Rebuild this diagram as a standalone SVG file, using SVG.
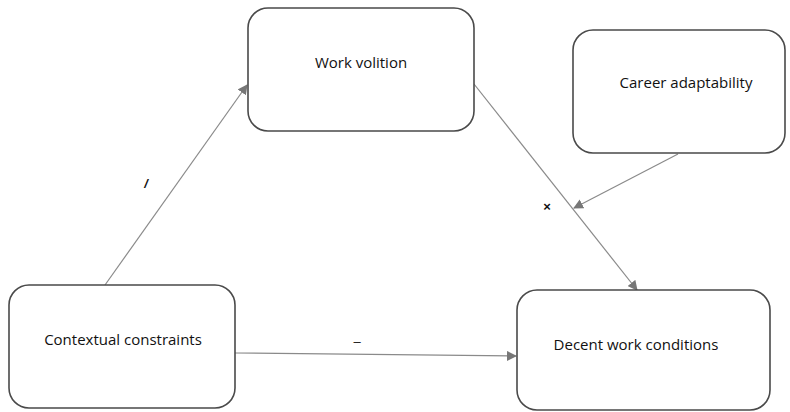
<svg xmlns="http://www.w3.org/2000/svg" width="790" height="412" viewBox="0 0 790 412">
<style>
.box{fill:#fff;stroke:#4a4a4a;stroke-width:1.6}
.lbl{font-family:"Open Sans","Liberation Sans",sans-serif;font-size:15px;fill:#111;text-anchor:middle}
.sym{font-family:"Liberation Sans",sans-serif;font-size:13px;fill:#111;text-anchor:middle}
.con{stroke:#8a8a8a;stroke-width:1.2;fill:none;marker-end:url(#ah)}
</style>
<defs>
<marker id="ah" markerWidth="10" markerHeight="10" refX="9" refY="5" orient="auto" markerUnits="userSpaceOnUse" viewBox="0 0 10 10">
<path d="M0,0 L10,5 L0,10 z" fill="#777"/>
</marker>
</defs>
<rect width="790" height="412" fill="#fff"/>
<g id="connectors">
<line class="con" x1="105" y1="285" x2="247" y2="85"/>
<line class="con" x1="474" y1="84" x2="637" y2="290"/>
<line class="con" x1="678" y1="154" x2="574" y2="208"/>
<line class="con" x1="235" y1="353" x2="516" y2="356"/>
<text class="sym" x="146" y="188" font-weight="bold" font-style="italic">/</text>
<text class="sym" x="547" y="211" font-weight="bold">×</text>
<text class="sym" x="357" y="346">–</text>
</g>
<g id="work-volition">
<rect class="box" x="248" y="8" width="226" height="123" rx="20"/>
<text class="lbl" x="361" y="68">Work volition</text>
</g>
<g id="career-adaptability">
<rect class="box" x="573" y="30" width="212" height="123" rx="20"/>
<text class="lbl" x="686" y="88">Career adaptability</text>
</g>
<g id="contextual-constraints">
<rect class="box" x="9" y="285" width="226" height="123" rx="20"/>
<text class="lbl" x="123" y="345">Contextual constraints</text>
</g>
<g id="decent-work">
<rect class="box" x="517" y="290" width="253" height="120" rx="20"/>
<text class="lbl" x="636" y="350">Decent work conditions</text>
</g>
</svg>
